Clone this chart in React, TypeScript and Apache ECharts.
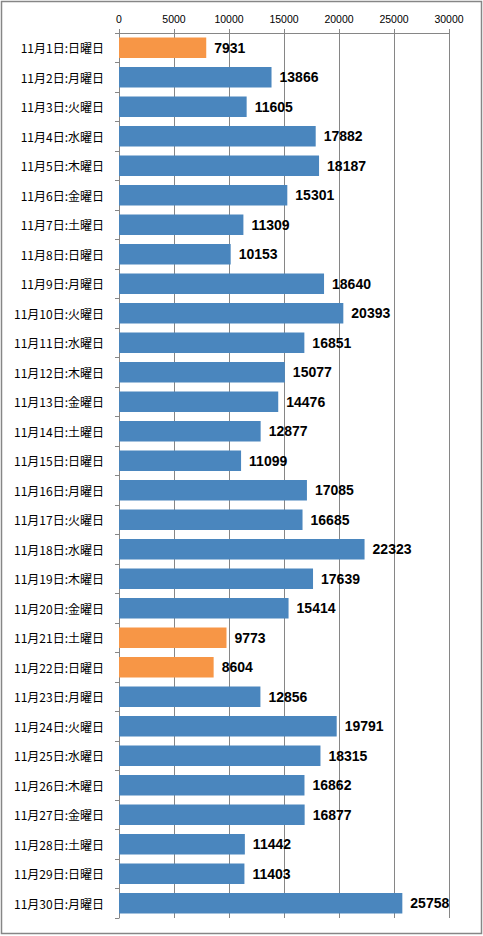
import React, { useEffect, useRef } from "react";
import * as echarts from "echarts";

const days: string[] = [
  "11月1日:日曜日", "11月2日:月曜日", "11月3日:火曜日", "11月4日:水曜日", "11月5日:木曜日",
  "11月6日:金曜日", "11月7日:土曜日", "11月8日:日曜日", "11月9日:月曜日", "11月10日:火曜日",
  "11月11日:水曜日", "11月12日:木曜日", "11月13日:金曜日", "11月14日:土曜日", "11月15日:日曜日",
  "11月16日:月曜日", "11月17日:火曜日", "11月18日:水曜日", "11月19日:木曜日", "11月20日:金曜日",
  "11月21日:土曜日", "11月22日:日曜日", "11月23日:月曜日", "11月24日:火曜日", "11月25日:水曜日",
  "11月26日:木曜日", "11月27日:金曜日", "11月28日:土曜日", "11月29日:日曜日", "11月30日:月曜日",
];

const counts: number[] = [
  7931, 13866, 11605, 17882, 18187, 15301, 11309, 10153, 18640, 20393,
  16851, 15077, 14476, 12877, 11099, 17085, 16685, 22323, 17639, 15414,
  9773, 8604, 12856, 19791, 18315, 16862, 16877, 11442, 11403, 25758,
];

const highlighted: number[] = [0, 20, 21];

const BLUE = "#4A86BE";
const ORANGE = "#F79646";
const GRAY = "#868686";

export default function App() {
  const ref = useRef<HTMLDivElement>(null);
  useEffect(() => {
    if (!ref.current) return;
    const chart = echarts.init(ref.current, undefined, { renderer: "svg" });
    chart.setOption({
      animation: false,
      backgroundColor: "#ffffff",
      graphic: [
        {
          type: "rect",
          shape: { x: 1.5, y: 1.5, width: 480, height: 932 },
          style: { fill: "none", stroke: GRAY, lineWidth: 1.5 },
          silent: true,
        },
      ],
      grid: { left: 119, right: 34, top: 33, bottom: 18, containLabel: false },
      xAxis: {
        type: "value",
        position: "top",
        min: 0,
        max: 30000,
        interval: 5000,
        axisLine: { show: true, lineStyle: { color: GRAY, width: 1 } },
        axisTick: { show: true, length: 4, lineStyle: { color: GRAY } },
        splitLine: { show: true, lineStyle: { color: GRAY, width: 1 } },
        axisLabel: {
          color: "#000",
          fontSize: 10.5,
          fontFamily: "Liberation Sans, Arial, sans-serif",
          margin: 9,
          formatter: (v: number) => String(v),
        },
      },
      yAxis: {
        type: "category",
        inverse: true,
        data: days,
        axisLine: { show: true, lineStyle: { color: GRAY, width: 1 } },
        axisTick: { show: true, length: 4, alignWithLabel: false, lineStyle: { color: GRAY } },
        splitLine: { show: false },
        axisLabel: {
          color: "#000",
          fontSize: 12,
          fontFamily: "Noto Sans CJK JP, sans-serif",
          margin: 15,
        },
      },
      series: [
        {
          type: "bar",
          barCategoryGap: "31%",
          data: counts.map((v, i) => ({
            value: v,
            itemStyle: { color: highlighted.includes(i) ? ORANGE : BLUE },
          })),
          label: {
            show: true,
            position: "right",
            distance: 8,
            color: "#000",
            fontWeight: "bold",
            fontSize: 14,
            fontFamily: "Liberation Sans, Arial, sans-serif",
          },
        },
      ],
    });
    return () => chart.dispose();
  }, []);
  return (
    <div
      ref={ref}
      style={{ position: "fixed", left: 0, top: 0, width: 483, height: 936 }}
    />
  );
}
